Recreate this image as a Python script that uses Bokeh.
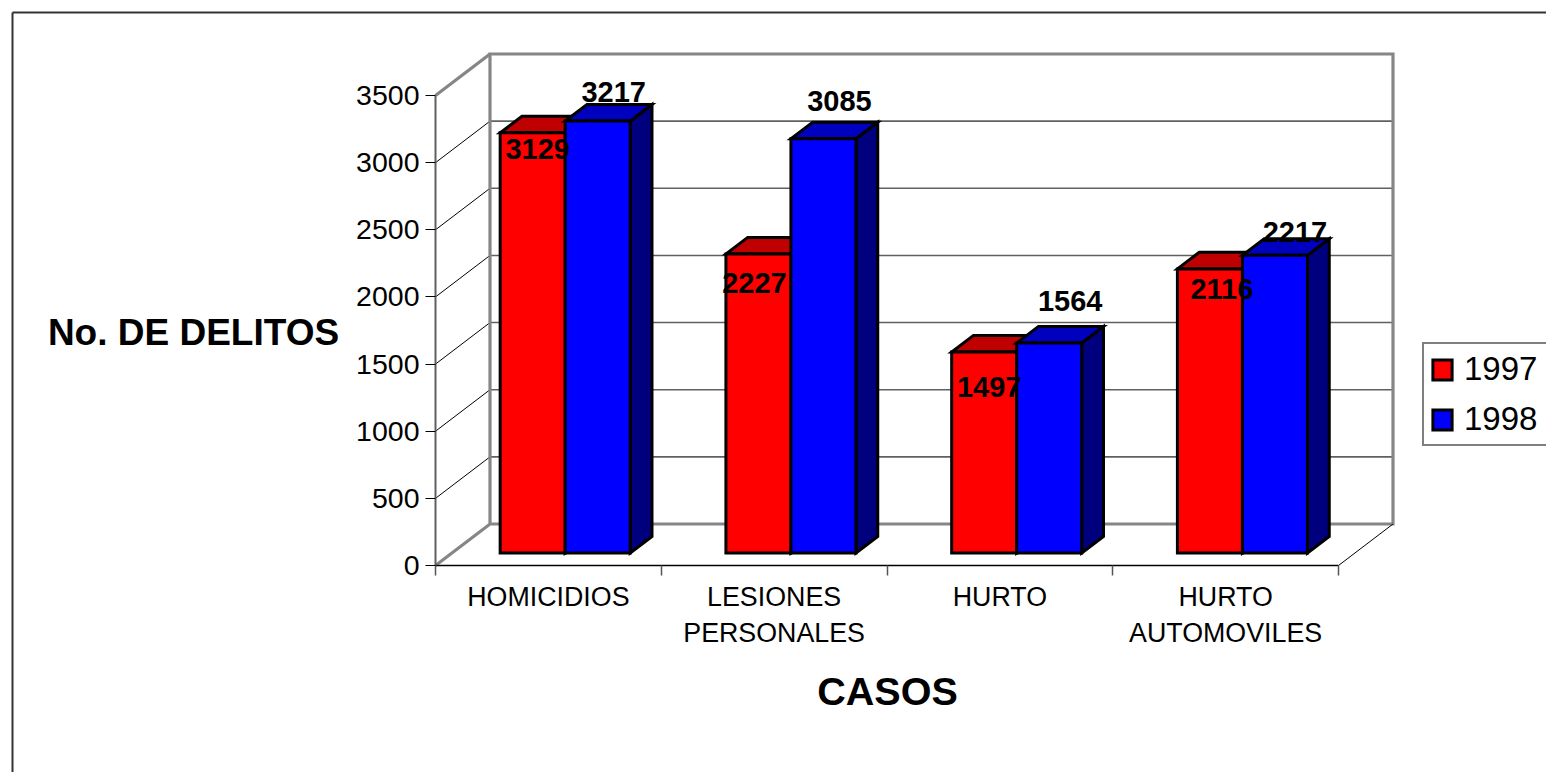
from bokeh.plotting import figure
from bokeh.models import (Range1d, LinearAxis, FixedTicker, Legend, LegendItem,
                          ColumnDataSource, Label)
from bokeh.core.properties import value
from bokeh.embed import file_html
from bokeh.resources import INLINE

# ---- data -----------------------------------------------------------------
categories = ["HOMICIDIOS", "LESIONES\nPERSONALES", "HURTO", "HURTO\nAUTOMOVILES"]
series_names = ["1997", "1998"]
values_1997 = [3129, 2227, 1497, 2116]
values_1998 = [3217, 3085, 1564, 2217]
y_ticks = [0, 500, 1000, 1500, 2000, 2500, 3000, 3500]
y_title = "No. DE DELITOS"
x_title = "CASOS"

# ---- layout ---------------------------------------------------------------
W, H = 1546, 772
PX_X0, PX_Y0 = 435, 565              # origin of front plane in frame pixels
UX = (1338 - 435) / 4                # pixels per category
UY = (565 - 95) / 3500               # pixels per value unit
DX = 54.5 / UX                       # wall depth in data units
DY = 41.5 / UY
GAP = 0.214
BAR = 0.288
D0, D1 = 0.30, 0.70
FONT = "Liberation Sans"

def proj(x, v, d):
    return x + d * DX, v + d * DY

def px(x):
    return (x - PX_X0) / UX

def py(y):
    return (PX_Y0 - y) / UY

p = figure(width=W, height=H, output_backend="svg", toolbar_location=None,
           x_range=Range1d(-PX_X0 / UX, (W - PX_X0) / UX),
           y_range=Range1d(-(H - PX_Y0) / UY, PX_Y0 / UY),
           x_axis_type=None, y_axis_type=None, min_border=0,
           outline_line_color=None, background_fill_color="white")

# page frame
p.segment([px(12), px(12)], [py(12), py(12)], [px(1546), px(12)], [py(12), py(772)],
          line_color="#333333", line_width=2)

# walls
n = len(categories)
top = y_ticks[-1]
for v in y_ticks[1:-1]:
    bx0, by0 = proj(0, v, 1)
    bx1, by1 = proj(n, v, 1)
    p.line([bx0, bx1], [by0, by1], line_color="#606060", line_width=1.6)
    p.line([0, bx0], [v, by0], line_color="black", line_width=1)
gray = dict(line_color="#868686", line_width=3.2, line_join="miter")
bx0, by0 = proj(0, 0, 1)
bxn, byn = proj(n, 0, 1)
tx0, ty0 = proj(0, top, 1)
txn, tyn = proj(n, top, 1)
p.line([0, bx0, bxn, txn, tx0, bx0], [0, by0, byn, tyn, ty0, by0], **gray)
p.line([0, tx0], [top, ty0], **gray)
p.line([n, bxn], [0, byn], line_color="black", line_width=1)

# axes
left = LinearAxis(ticker=FixedTicker(ticks=y_ticks), bounds=(0, top), fixed_location=0,
                  axis_line_color="#606060", axis_line_width=2,
                  major_tick_line_color="black", major_tick_line_width=1,
                  major_tick_in=0, major_tick_out=10, minor_tick_line_color=None,
                  major_label_text_font=FONT, major_label_text_font_size="28.5px",
                  major_label_text_color="black", major_label_standoff=6)
p.add_layout(left, "left")
bottom = LinearAxis(ticker=FixedTicker(ticks=list(range(n + 1))), bounds=(0, n), fixed_location=0,
                    axis_line_color="black", axis_line_width=1.5,
                    major_tick_line_color="#555555", major_tick_line_width=1.5,
                    major_tick_in=0, major_tick_out=10, minor_tick_line_color=None,
                    major_label_text_color=None)
p.add_layout(bottom, "below")
labels_axis = LinearAxis(ticker=FixedTicker(ticks=[i + 0.5 for i in range(n)]),
                         bounds=(0, n), fixed_location=0,
                         axis_line_color=None, major_tick_line_color=None,
                         minor_tick_line_color=None,
                         major_label_overrides={i + 0.5: c for i, c in enumerate(categories)},
                         major_label_text_font=FONT, major_label_text_font_size="26.8px",
                         major_label_text_color="black", major_label_standoff=10)
p.add_layout(labels_axis, "below")

# bars
def bars(vals, slot, front, dark, side):
    fs, ts, ss = ([], []), ([], []), ([], [])
    for i, v in enumerate(vals):
        x0 = i + GAP + slot * BAR
        x1 = x0 + BAR
        corners = [(x0, 0, D0), (x1, 0, D0), (x1, v, D0), (x0, v, D0)]
        pts = [proj(*c) for c in corners]
        fs[0].append([a for a, _ in pts]); fs[1].append([b for _, b in pts])
        corners = [(x0, v, D0), (x1, v, D0), (x1, v, D1), (x0, v, D1)]
        pts = [proj(*c) for c in corners]
        ts[0].append([a for a, _ in pts]); ts[1].append([b for _, b in pts])
        corners = [(x1, 0, D0), (x1, 0, D1), (x1, v, D1), (x1, v, D0)]
        pts = [proj(*c) for c in corners]
        ss[0].append([a for a, _ in pts]); ss[1].append([b for _, b in pts])
    st = dict(line_color="black", line_width=3, line_join="miter")
    p.patches(ss[0], ss[1], fill_color=side, **st)
    p.patches(ts[0], ts[1], fill_color=dark, **st)
    return p.patches(fs[0], fs[1], fill_color=front, **st)

r97 = bars(values_1997, 0, "#FF0000", "#BF0000", "#7F0000")
r98 = bars(values_1998, 1, "#0000FF", "#0000BF", "#00007F")

# data labels (hand-placed in the original, offsets from the bar's front-top centre)
off_97 = [(5, 16), (-4, 29), (5, 35), (12, 20)]
off_98 = [(16, -29), (16, -38), (21, -42), (20, -23)]
for vals, slot, off in ((values_1997, 0, off_97), (values_1998, 1, off_98)):
    xs, ys = [], []
    for i, v in enumerate(vals):
        a, b = proj(i + GAP + (slot + 0.5) * BAR, v, D0)
        xs.append(a); ys.append(b)
    src = ColumnDataSource(dict(x=xs, y=ys, t=[str(v) for v in vals],
                                dx=[o[0] for o in off], dy=[o[1] for o in off]))
    p.text("x", "y", text="t", source=src, x_offset="dx", y_offset="dy",
           text_align="center", text_baseline="middle", text_color="black",
           text_font=value(FONT), text_font_style="bold", text_font_size="29px")

# titles
p.add_layout(Label(x=px(193), y=py(332), text=y_title, text_font=FONT, text_font_style="bold",
                   text_color="black", text_font_size="37px", text_align="center", text_baseline="middle"))
p.add_layout(Label(x=px(887), y=py(690), text=x_title, text_font=FONT, text_font_style="bold",
                   text_color="black", text_font_size="39.5px", text_align="center", text_baseline="middle"))

# legend
legend = Legend(items=[LegendItem(label=series_names[0], renderers=[r97], index=0),
                       LegendItem(label=series_names[1], renderers=[r98], index=0)],
                location=(1422, H - 446), orientation="vertical",
                glyph_width=24, glyph_height=25, label_standoff=10, spacing=12,
                padding=6, margin=0, label_width=90,
                label_text_font=FONT, label_text_font_size="33px", label_text_color="black",
                border_line_color="black", border_line_width=2,
                background_fill_color="white", background_fill_alpha=1)
p.add_layout(legend, "center")

open("out.html", "w").write(file_html(p, INLINE))
